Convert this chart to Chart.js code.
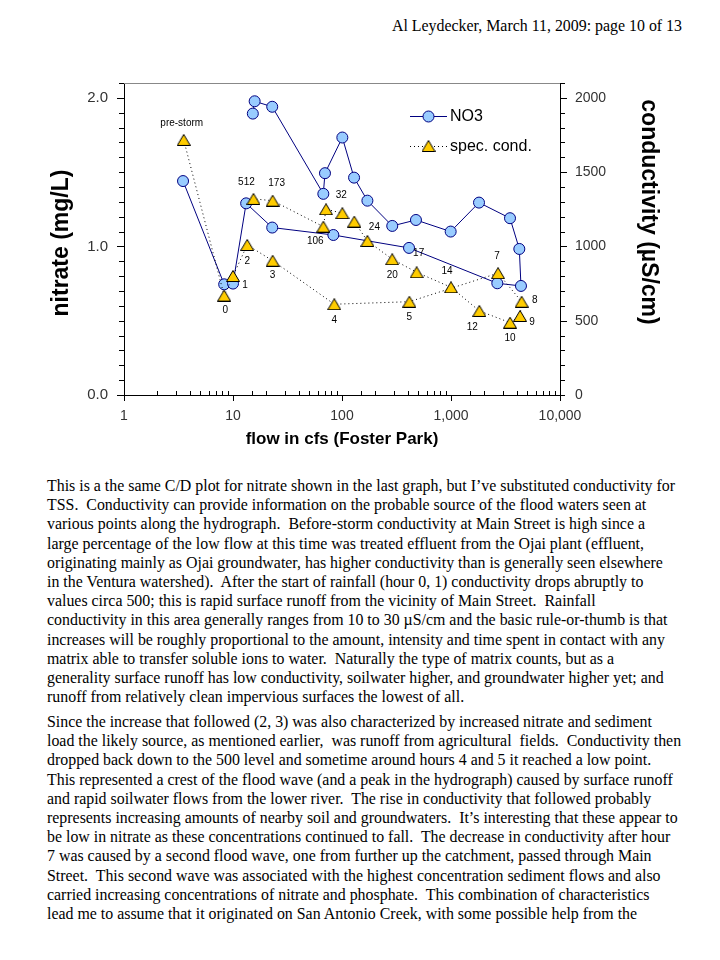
<!DOCTYPE html>
<html>
<head>
<meta charset="utf-8">
<script src="https://cdn.jsdelivr.net/npm/chart.js@4.4.0/dist/chart.umd.min.js"></script>
<style>
  body { margin: 0; background: #fff; }
  #page { position: relative; width: 720px; height: 960px; overflow: hidden; font-family: "Liberation Serif", "Times New Roman", serif; color: #000; }
  #header { position: absolute; right: 38px; top: 16px; font-size: 15.9px; line-height: 19px; white-space: nowrap; }
  #chartBox { position: absolute; left: 0; top: 0; width: 720px; height: 460px; }
  .para { position: absolute; left: 47px; font-size: 15.9px; line-height: 19.2px; white-space: pre; }
</style>
</head>
<body>
<div id="page">
  <div id="header">Al Leydecker, March 11, 2009: page 10 of 13</div>
  <div id="chartBox"><canvas id="chart" width="720" height="460"></canvas></div>
  <div class="para" style="top:476px">This is a the same C/D plot for nitrate shown in the last graph, but I’ve substituted conductivity for
TSS.  Conductivity can provide information on the probable source of the flood waters seen at
various points along the hydrograph.  Before-storm conductivity at Main Street is high since a
large percentage of the low flow at this time was treated effluent from the Ojai plant (effluent,
originating mainly as Ojai groundwater, has higher conductivity than is generally seen elsewhere
in the Ventura watershed).  After the start of rainfall (hour 0, 1) conductivity drops abruptly to
values circa 500; this is rapid surface runoff from the vicinity of Main Street.  Rainfall
conductivity in this area generally ranges from 10 to 30 µS/cm and the basic rule-or-thumb is that
increases will be roughly proportional to the amount, intensity and time spent in contact with any
matrix able to transfer soluble ions to water.  Naturally the type of matrix counts, but as a
generality surface runoff has low conductivity, soilwater higher, and groundwater higher yet; and
runoff from relatively clean impervious surfaces the lowest of all.</div>
  <div class="para" style="top:712px">Since the increase that followed (2, 3) was also characterized by increased nitrate and sediment
load the likely source, as mentioned earlier,  was runoff from agricultural  fields.  Conductivity then
dropped back down to the 500 level and sometime around hours 4 and 5 it reached a low point.
This represented a crest of the flood wave (and a peak in the hydrograph) caused by surface runoff
and rapid soilwater flows from the lower river.  The rise in conductivity that followed probably
represents increasing amounts of nearby soil and groundwaters.  It’s interesting that these appear to
be low in nitrate as these concentrations continued to fall.  The decrease in conductivity after hour
7 was caused by a second flood wave, one from further up the catchment, passed through Main
Street.  This second wave was associated with the highest concentration sediment flows and also
carried increasing concentrations of nitrate and phosphate.  This combination of characteristics
lead me to assume that it originated on San Antonio Creek, with some possible help from the</div>
</div>
<script>
// nitrate samples (flow in cfs, NO3 in mg/L), in sampling order
const no3Flow = [3.48, 8.3, 10.0, 13.2, 22.9, 83.3, 412, 2660, 4385, 4234, 3478, 1807, 993, 477, 289, 171, 129, 100.7, 69.8, 67.4, 22.9, 15.8, 15.2];
const no3Value = [1.44, 0.745, 0.75, 1.29, 1.127, 1.077, 0.99, 0.752, 0.734, 0.983, 1.19, 1.295, 1.10, 1.178, 1.138, 1.308, 1.463, 1.733, 1.493, 1.354, 1.94, 1.977, 1.894];

// specific conductance samples (flow in cfs, uS/cm) with hour labels
const condFlow = [3.53, 8.3, 10.0, 13.5, 23.1, 85, 415, 2700, 4450, 4300, 3480, 1820, 1000, 484, 289, 171, 129.7, 100.7, 71.4, 67.4, 23.1, 15.4];
const condValue = [1717, 669, 801, 1010, 904, 611, 628, 820, 628, 532, 487, 566, 725, 826, 914, 1037, 1167, 1224, 1250, 1133, 1308, 1320];
const condLabels = ["pre-storm", "0", "1", "2", "3", "4", "5", "7", "8", "9", "10", "12", "14", "17", "20", "24", "", "32", "", "106", "173", "512"];

// where each hour label sits relative to its marker (px)
const condLabelOffsets = [[-2, -17], [1, 15], [12, 9], [0, 16], [0, 15], [0, 16], [0, 16], [-1, -17], [13, -1], [12, 6], [0, 16], [-7, 16], [-4, -16], [2, -19], [0, 16], [7, -14], [0, 0], [-1, -18], [0, 0], [-8, 15], [4, -17], [-7, -17]];

const xMajor = [1, 10, 100, 1000, 10000];

Chart.defaults.font.family = "'Liberation Sans', Arial, sans-serif";
Chart.defaults.color = "#333";

function makeTriangle() {
  const c = document.createElement("canvas");
  c.width = 14;
  c.height = 12;
  const g = c.getContext("2d");
  g.beginPath();
  g.moveTo(7, 0.5);
  g.lineTo(13.5, 11.5);
  g.lineTo(0.5, 11.5);
  g.closePath();
  g.fillStyle = "#FFCC00";
  g.fill();
  g.strokeStyle = "#000";
  g.lineWidth = 1;
  g.stroke();
  return c;
}
const triangle = makeTriangle();

const tickMarks = {
  id: "tickMarks",
  afterDraw(chart) {
    const { ctx, chartArea: a, scales } = chart;
    ctx.save();
    ctx.strokeStyle = "#000";
    ctx.lineWidth = 1;
    ctx.beginPath();
    scales.y.ticks.forEach((t) => {
      const py = Math.round(scales.y.getPixelForValue(t.value)) + 0.5;
      const len = t.label ? 7 : 5;
      ctx.moveTo(a.left - len, py);
      ctx.lineTo(a.left, py);
    });
    scales.y1.ticks.forEach((t) => {
      const py = Math.round(scales.y1.getPixelForValue(t.value)) + 0.5;
      const len = t.label ? 7 : 5;
      ctx.moveTo(a.right, py);
      ctx.lineTo(a.right + len, py);
    });
    scales.x.ticks.forEach((t) => {
      const px = Math.round(scales.x.getPixelForValue(t.value)) + 0.5;
      if (t.label) {
        ctx.moveTo(px, a.bottom);
        ctx.lineTo(px, a.bottom + 6);
      } else {
        ctx.moveTo(px, a.bottom - 4);
        ctx.lineTo(px, a.bottom);
      }
    });
    ctx.stroke();
    // thin grey frame line along the top
    ctx.strokeStyle = "#888";
    ctx.beginPath();
    ctx.moveTo(a.left, Math.round(a.top) + 0.5);
    ctx.lineTo(a.right, Math.round(a.top) + 0.5);
    ctx.stroke();

    // vertical axis titles
    ctx.font = "bold 23px 'Liberation Sans', Arial, sans-serif";
    ctx.fillStyle = "#000";
    ctx.textAlign = "center";
    ctx.textBaseline = "middle";
    ctx.save();
    ctx.translate(a.left - 62, (a.top + a.bottom) / 2 + 4);
    ctx.rotate(-Math.PI / 2);
    ctx.fillText("nitrate (mg/L)", 0, 0);
    ctx.restore();
    ctx.save();
    ctx.translate(a.right + 88, a.top + 129);
    ctx.rotate(Math.PI / 2);
    ctx.fillText("conductivity (µS/cm)", 0, 0);
    ctx.restore();
    ctx.restore();
  },
};

const pointLabels = {
  id: "pointLabels",
  afterDatasetsDraw(chart) {
    const { ctx } = chart;
    const meta = chart.getDatasetMeta(1);
    ctx.save();
    ctx.font = "10px 'Liberation Sans', Arial, sans-serif";
    ctx.fillStyle = "#000";
    ctx.textAlign = "center";
    ctx.textBaseline = "middle";
    meta.data.forEach((pt, i) => {
      if (!condLabels[i]) return;
      const [dx, dy] = condLabelOffsets[i];
      ctx.fillText(condLabels[i], pt.x + dx, pt.y + dy);
    });
    ctx.restore();
  },
};

const legendBox = {
  id: "legendBox",
  afterDraw(chart) {
    const { ctx, chartArea: a } = chart;
    const x0 = a.left + 286;
    const x1 = a.left + 323;
    const xm = (x0 + x1) / 2;
    const r1 = a.top + 33.5;
    const r2 = a.top + 63.5;
    ctx.save();
    ctx.lineWidth = 1;
    ctx.strokeStyle = "#000080";
    ctx.beginPath();
    ctx.moveTo(x0, r1);
    ctx.lineTo(x1, r1);
    ctx.stroke();
    ctx.beginPath();
    ctx.arc(xm, r1, 5.5, 0, Math.PI * 2);
    ctx.fillStyle = "#99CCFF";
    ctx.fill();
    ctx.stroke();
    ctx.strokeStyle = "#000";
    ctx.setLineDash([1, 3]);
    ctx.beginPath();
    ctx.moveTo(x0, r2);
    ctx.lineTo(x1, r2);
    ctx.stroke();
    ctx.setLineDash([]);
    ctx.drawImage(triangle, xm - 7, r2 - 6.5);
    ctx.font = "16px 'Liberation Sans', Arial, sans-serif";
    ctx.fillStyle = "#000";
    ctx.textBaseline = "middle";
    ctx.fillText("NO3", x1 + 3, r1);
    ctx.fillText("spec. cond.", x1 + 3, r2);
    ctx.restore();
  },
};

new Chart(document.getElementById("chart"), {
  type: "scatter",
  data: {
    datasets: [
      {
        label: "NO3",
        data: no3Flow.map((x, i) => ({ x: x, y: no3Value[i] })),
        yAxisID: "y",
        showLine: true,
        borderColor: "#000080",
        borderWidth: 1,
        pointRadius: 5.5,
        pointBackgroundColor: "#99CCFF",
        pointBorderColor: "#000080",
        pointBorderWidth: 1,
        order: 1,
      },
      {
        label: "spec. cond.",
        data: condFlow.map((x, i) => ({ x: x, y: condValue[i] })),
        yAxisID: "y1",
        showLine: true,
        borderColor: "#000",
        borderWidth: 1,
        borderDash: [1, 3],
        pointStyle: triangle,
        pointRadius: 6,
        order: 0,
      },
    ],
  },
  options: {
    responsive: false,
    animation: false,
    devicePixelRatio: 1,
    layout: { padding: { top: 83, left: 0, right: 0, bottom: 0 } },
    plugins: {
      legend: { display: false },
      tooltip: { enabled: false },
    },
    scales: {
      x: {
        type: "logarithmic",
        min: 1,
        max: 10000,
        grid: { display: false, drawTicks: false },
        border: { color: "#000" },
        ticks: {
          autoSkip: false,
          maxRotation: 0,
          padding: 13,
          font: { size: 14 },
          callback: (v) => (xMajor.includes(v) ? v.toLocaleString("en-US") : ""),
        },
        title: {
          display: true,
          text: "flow in cfs (Foster Park)",
          color: "#000",
          font: { size: 17, weight: "bold" },
          padding: { top: 0, bottom: 10 },
        },
        afterFit: (s) => {
          s.height = 65;
        },
      },
      y: {
        position: "left",
        min: 0,
        max: 2.1,
        grid: { display: false, drawTicks: false },
        border: { color: "#000" },
        ticks: {
          stepSize: 0.1,
          autoSkip: false,
          padding: 16,
          font: { size: 15 },
          callback: (v) => (Math.abs(v - Math.round(v)) < 1e-6 ? v.toFixed(1) : ""),
        },
        afterFit: (s) => {
          s.width = 124;
        },
      },
      y1: {
        position: "right",
        min: 0,
        max: 2100,
        grid: { display: false, drawTicks: false },
        border: { color: "#000" },
        ticks: {
          stepSize: 100,
          autoSkip: false,
          padding: 15,
          font: { size: 14 },
          callback: (v) => (v % 500 === 0 ? v : ""),
        },
        afterFit: (s) => {
          s.width = 160;
        },
      },
    },
  },
  plugins: [tickMarks, pointLabels, legendBox],
});
</script>
</body>
</html>
